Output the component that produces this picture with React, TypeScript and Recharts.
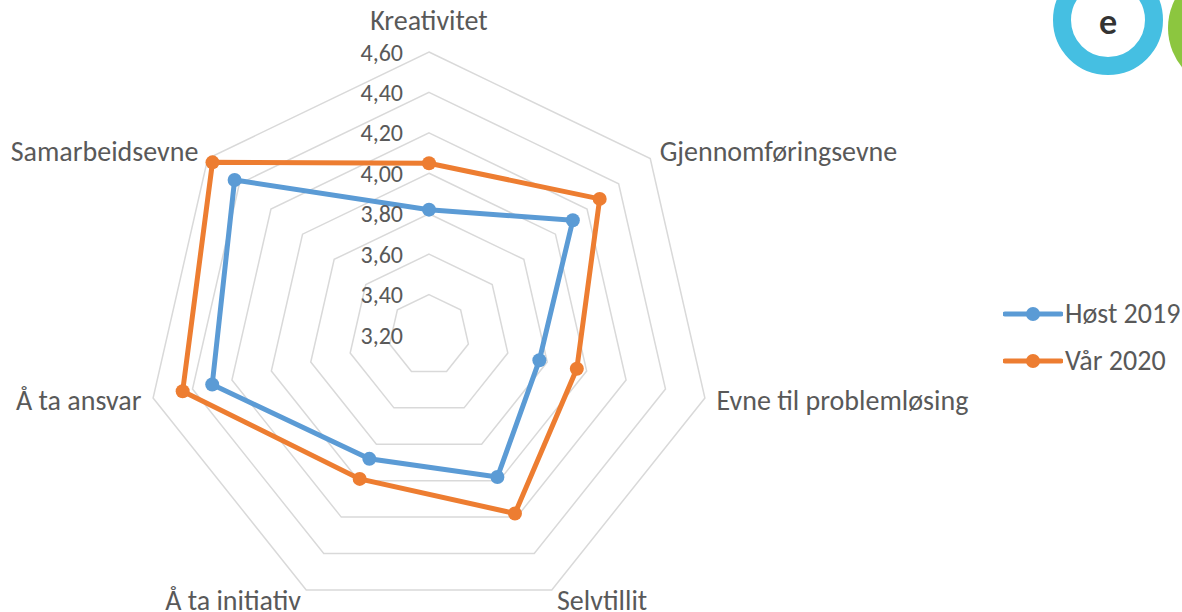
import React from 'react';
import { RadarChart, Radar, PolarGrid, PolarAngleAxis, PolarRadiusAxis, Legend } from 'recharts';

const categories = [
  'Kreativitet',
  'Gjennomføringsevne',
  'Evne til problemløsing',
  'Selvtillit',
  'Å ta initiativ',
  'Å ta ansvar',
  'Samarbeidsevne',
];
const host2019 = [3.82, 4.11, 3.76, 3.98, 3.88, 4.3, 4.43];
const var2020 = [4.05, 4.28, 3.95, 4.18, 3.99, 4.45, 4.57];
const radiusTicks = [3.2, 3.4, 3.6, 3.8, 4.0, 4.2, 4.4, 4.6];

const SERIES = [
  { key: 'host', name: 'Høst 2019', color: '#5B9BD5' },
  { key: 'var', name: 'Vår 2020', color: '#ED7D31' },
];

const data = categories.map((c, i) => ({ subject: c, host: host2019[i], var: var2020[i] }));

const FONT = 'Carlito, Lato, sans-serif';
const TEXT = '#595959';
const RADIAN = Math.PI / 180;

const AngleTick = (props: any) => {
  const { x, y, payload } = props;
  const ang = payload.coordinate;
  const cos = Math.cos(ang * RADIAN);
  const anchor = Math.abs(cos) < 0.01 ? 'middle' : cos > 0 ? 'start' : 'end';
  const dy = Math.sin(ang * RADIAN) > 0.99 ? -20 : 0;
  return (
    <text x={x} y={y + dy} textAnchor={anchor} dominantBaseline="central" fill={TEXT} fontSize={28} fontFamily={FONT}>
      {payload.value}
    </text>
  );
};

const RadiusTick = (props: any) => {
  const { x, y, payload } = props;
  return (
    <text x={x - 26} y={y} textAnchor="end" dominantBaseline="central" fill={TEXT} fontSize={24} fontFamily={FONT}>
      {Number(payload.value).toFixed(2).replace('.', ',')}
    </text>
  );
};

const makeDot = (color: string) => (p: any) => (
  <circle key={`dot-${p.index}`} cx={p.cx} cy={p.cy} r={7} fill={color} />
);

const renderLegend = () => (
  <div style={{ fontFamily: FONT, fontSize: 28, color: TEXT }}>
    {SERIES.map((s) => (
      <div key={s.key} style={{ display: 'flex', alignItems: 'center', height: 47 }}>
        <svg width={60} height={20} style={{ marginRight: 2 }}>
          <line x1={2} y1={10} x2={58} y2={10} stroke={s.color} strokeWidth={5} strokeLinecap="round" />
          <circle cx={30} cy={10} r={7} fill={s.color} />
        </svg>
        <span>{s.name}</span>
      </div>
    ))}
  </div>
);

const Logo = () => (
  <svg width={1182} height={612} style={{ position: 'absolute', left: 0, top: 0, pointerEvents: 'none' }}>
    <circle cx={1108} cy={20} r={46} fill="none" stroke="#45BFE2" strokeWidth={18} />
    <text x={1108} y={20} textAnchor="middle" dominantBaseline="central" fontSize={34} fontWeight={700} fontFamily="Lato, sans-serif" fill="#333">
      e
    </text>
    <circle cx={1230} cy={28} r={62} fill="#8CC63F" />
  </svg>
);

export default function App() {
  return (
    <div style={{ position: 'absolute', left: 0, top: 0, width: 1182, height: 612, background: '#fff' }}>
      <RadarChart width={1182} height={612} data={data} cx={429} cy={335} outerRadius={283} margin={{ top: 0, right: 0, bottom: 0, left: 0 }}>
        <PolarGrid gridType="polygon" radialLines={false} stroke="#d9d9d9" strokeWidth={1.5} />
        <PolarAngleAxis dataKey="subject" tick={AngleTick} tickLine={false} axisLine={false} tickSize={12} />
        <PolarRadiusAxis
          angle={90}
          type="number"
          domain={[3.2, 4.6]}
          ticks={radiusTicks as any}
          allowDecimals
          allowDataOverflow
          tickCount={8}
          axisLine={false}
          tickLine={false}
          tick={RadiusTick}
        />
        {SERIES.map((s) => (
          <Radar
            key={s.key}
            name={s.name}
            dataKey={s.key}
            stroke={s.color}
            strokeWidth={5}
            fill="none"
            fillOpacity={0}
            dot={makeDot(s.color)}
            isAnimationActive={false}
          />
        ))}
        <Legend content={renderLegend} layout="vertical" wrapperStyle={{ position: 'absolute', left: 1003, top: 290, width: 180 }} />
      </RadarChart>
      <Logo />
    </div>
  );
}
